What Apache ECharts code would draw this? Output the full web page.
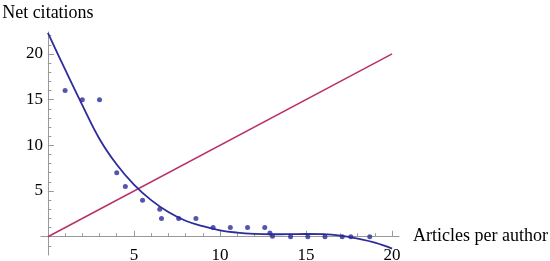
<!DOCTYPE html>
<html>
<head>
<meta charset="utf-8">
<script src="https://cdn.jsdelivr.net/npm/echarts@6/dist/echarts.min.js"></script>
<style>
  html, body { margin: 0; padding: 0; background: #fff; }
  #chart { width: 550px; height: 261px; }
</style>
</head>
<body>
<div id="chart"></div>
<script>
// observed points (articles per author, net citations)
const pointX = [1, 2, 3, 4, 4.5, 5.5, 6.5, 6.6, 7.6, 8.6, 9.6, 10.6, 11.6, 12.6, 12.9, 13.05, 14.1, 15.1, 16.1, 17.1, 17.6, 18.7];
const pointY = [16, 15, 15, 7, 5.5, 4, 3, 2, 2, 2, 1, 1, 1, 1, 0.4, 0.05, 0, 0, 0, 0, 0, 0];

// fitted curve
const fitX = [0, 1, 2, 3, 4, 5, 6, 7, 8, 9, 10, 11, 12, 13, 14, 15, 16, 17, 18, 19, 20];
const fitY = [22.3, 18.3, 14.4, 10.7, 7.9, 5.7, 4.0, 2.7, 1.75, 1.15, 0.7, 0.45, 0.32, 0.27, 0.28, 0.3, 0.28, 0.12, -0.22, -0.65, -1.3];

// reference line y = x
const lineX = [0, 20];
const lineY = [0, 20];

// ticks
const xMajor = [5, 10, 15, 20];
const xMinor = [1, 2, 3, 4, 6, 7, 8, 9, 11, 12, 13, 14, 16, 17, 18, 19];
const yMajor = [5, 10, 15, 20];
const yMinor = [-1, 1, 2, 3, 4, 6, 7, 8, 9, 11, 12, 13, 14, 16, 17, 18, 19, 21, 22];

const X_MIN = -0.4, X_MAX = 20.4;
const Y_MIN = -2, Y_MAX = 22.4;

const serif = "'Liberation Serif', 'DejaVu Serif', serif";
const axisGray = "#999";
const blue = "#2c2c9a";
const red = "#b8306a";

const chart = echarts.init(document.getElementById("chart"));

const zip = (xs, ys) => xs.map((x, i) => [x, ys[i]]);

// labels stay at the grid edge, not on the zero line, so pull them in
chart.setOption({
  animation: false,
  grid: {
    left: 41,
    right: 151,
    top: 32,
    bottom: 6,
    containLabel: false,
    outerBoundsMode: "none"
  },
  xAxis: [
    {
      type: "value",
      min: X_MIN,
      max: X_MAX,
      position: "bottom",
      name: "Articles per author",
      nameLocation: "end",
      nameGap: 14,
      nameTextStyle: { fontFamily: serif, fontSize: 18, color: "#000" },
      axisLine: { onZero: true, lineStyle: { color: axisGray, width: 1 } },
      axisTick: { inside: true, length: 6, customValues: xMajor, lineStyle: { color: axisGray } },
      axisLabel: { customValues: xMajor, margin: -8, fontFamily: serif, fontSize: 17, color: "#000" },
      splitLine: { show: false }
    },
    {
      type: "value",
      min: X_MIN,
      max: X_MAX,
      position: "bottom",
      axisLine: { show: false, onZero: true },
      axisTick: { inside: true, length: 3.5, customValues: xMinor, lineStyle: { color: axisGray } },
      axisLabel: { show: false },
      splitLine: { show: false }
    }
  ],
  yAxis: [
    {
      type: "value",
      min: Y_MIN,
      max: Y_MAX,
      position: "left",
      name: "Net citations",
      nameLocation: "end",
      nameGap: 10,
      nameTextStyle: { fontFamily: serif, fontSize: 18, color: "#000" },
      axisLine: { onZero: true, lineStyle: { color: axisGray, width: 1 } },
      axisTick: { inside: true, length: 6, customValues: yMajor, lineStyle: { color: axisGray } },
      axisLabel: { customValues: yMajor, margin: -2, fontFamily: serif, fontSize: 17, color: "#000" },
      splitLine: { show: false }
    },
    {
      type: "value",
      min: Y_MIN,
      max: Y_MAX,
      position: "left",
      axisLine: { show: false, onZero: true },
      axisTick: { inside: true, length: 3.5, customValues: yMinor, lineStyle: { color: axisGray } },
      axisLabel: { show: false },
      splitLine: { show: false }
    }
  ],
  series: [
    {
      name: "y = x",
      type: "line",
      data: zip(lineX, lineY),
      showSymbol: false,
      lineStyle: { color: red, width: 1.5 },
      z: 2
    },
    {
      name: "fit",
      type: "line",
      data: zip(fitX, fitY),
      smooth: 0.4,
      showSymbol: false,
      lineStyle: { color: blue, width: 1.8 },
      z: 3
    },
    {
      name: "points",
      type: "scatter",
      data: zip(pointX, pointY),
      symbolSize: 5,
      itemStyle: { color: "#2a2a9a" },
      z: 4
    }
  ]
});
</script>
</body>
</html>
